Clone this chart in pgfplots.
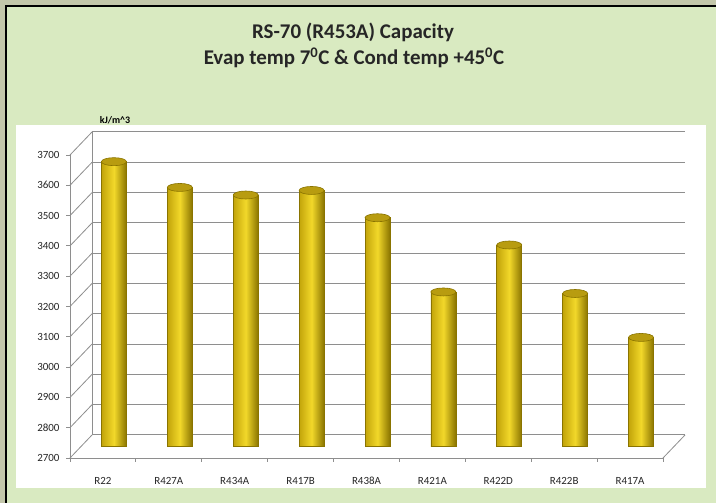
\documentclass[border=0pt]{standalone}
\usepackage{fontspec}
\setmainfont{Carlito}
\usepackage{pgfplots}
\pgfplotsset{compat=1.18}
\definecolor{bgGreen}{HTML}{D9EAC1}
\definecolor{frameGray}{HTML}{C3C7AA}
\definecolor{gridGray}{HTML}{8E8E8E}
\definecolor{barDark}{HTML}{8A7400}
\definecolor{barMid}{HTML}{F2D82A}
\definecolor{barLeft}{HTML}{C2A40A}
\definecolor{barTop}{HTML}{B89C10}
\pgfplotsset{cyl/.style={ybar, bar width=25bp, bar shift=0pt, draw=barDark, line width=0.6bp,
  left color=barLeft, right color=barDark, middle color=barMid}}
\begin{document}
\begin{tikzpicture}[x=1bp,y=1bp]
\useasboundingbox (0,0) rectangle (716,503);
\fill[frameGray] (0,0) rectangle (716,503);
\fill[black] (5,0) rectangle (716,498);
\fill[bgGreen] (7,0) rectangle (716,496);
\fill[white] (16,15) rectangle (706,378);
\node[font=\bfseries\fontsize{21}{25}\selectfont, text=black!85] at (353,471) {RS-70 (R453A) Capacity};
\node[font=\bfseries\fontsize{21}{25}\selectfont, text=black!85] at (354,445) {Evap temp 7\textsuperscript{0}C \& Cond temp +45\textsuperscript{0}C};
\node[font=\bfseries\fontsize{10}{12}\selectfont] at (115,383) {kJ/m\textasciicircum 3};

% back wall
\begin{axis}[at={(92bp,68bp)}, anchor=south west, scale only axis,
  width=593bp, height=303bp,
  xmin=-0.5, xmax=8.5, ymin=2700, ymax=3700,
  ytick={2700,2800,...,3700}, yticklabels={}, xtick=\empty,
  ymajorgrids, major grid style={gridGray, line width=1bp},
  axis x line=none, axis y line=left,
  axis line style={gridGray, line width=0.8bp, -},
  major tick length=0pt]
\addplot[draw=none] coordinates {(0,2700)};
\end{axis}

% front frame with labels
\begin{axis}[at={(70bp,45bp)}, anchor=south west, scale only axis,
  width=593bp, height=303bp,
  xmin=-0.5, xmax=8.5, ymin=2700, ymax=3700,
  clip=false,
  axis x line=bottom, axis y line=left,
  axis line style={gridGray, line width=0.8bp, -},
  tick align=outside, major tick length=4bp,
  tick style={gridGray, line width=0.8bp},
  ytick={2700,2800,...,3700},
  xtick={-0.5,0.5,...,8.5}, xticklabels={},
  extra x ticks={0,1,2,3,4,5,6,7,8},
  extra x tick labels={R22,R427A,R434A,R417B,R438A,R421A,R422D,R422B,R417A},
  extra x tick style={major tick length=0pt},
  /pgf/number format/assume math mode=true,
  /pgf/number format/1000 sep={},
  yticklabel style={font=\fontsize{11}{13}\selectfont, text=black!85, xshift=-3bp},
  xticklabel style={font=\fontsize{11}{13}\selectfont, text=black!85, anchor=base, yshift=-27bp},
  ]
\addplot[draw=none] coordinates {(0,2700)};
\pgfplotsinvokeforeach{2700,2800,2900,3000,3100,3200,3300,3400,3500,3600,3700}{
  \draw[gridGray, line width=0.8bp] (axis cs:-0.5,#1) -- ++(22bp,23bp);
}
\draw[gridGray, line width=0.8bp] (axis cs:8.5,2700) -- ++(22bp,23bp);
\end{axis}

% bars at mid depth
\begin{axis}[at={(81bp,56.5bp)}, anchor=south west, scale only axis,
  width=593bp, height=303bp,
  xmin=-0.5, xmax=8.5, ymin=2700, ymax=3700,
  hide axis]
\addplot[cyl] coordinates {(0,3640)};
\addplot[cyl] coordinates {(1,3555)};
\addplot[cyl] coordinates {(2,3530)};
\addplot[cyl] coordinates {(3,3545)};
\addplot[cyl] coordinates {(4,3455)};
\addplot[cyl] coordinates {(5,3210)};
\addplot[cyl] coordinates {(6,3365)};
\addplot[cyl] coordinates {(7,3205)};
\addplot[cyl] coordinates {(8,3060)};
\addplot[only marks, mark=*, mark size=12.5bp,
  mark options={yscale=0.32, fill=barTop, draw=barDark, line width=0.6bp}]
  coordinates {(0,3640) (1,3555) (2,3530) (3,3545) (4,3455) (5,3210) (6,3365) (7,3205) (8,3060)};
\end{axis}
\end{tikzpicture}
\end{document}
